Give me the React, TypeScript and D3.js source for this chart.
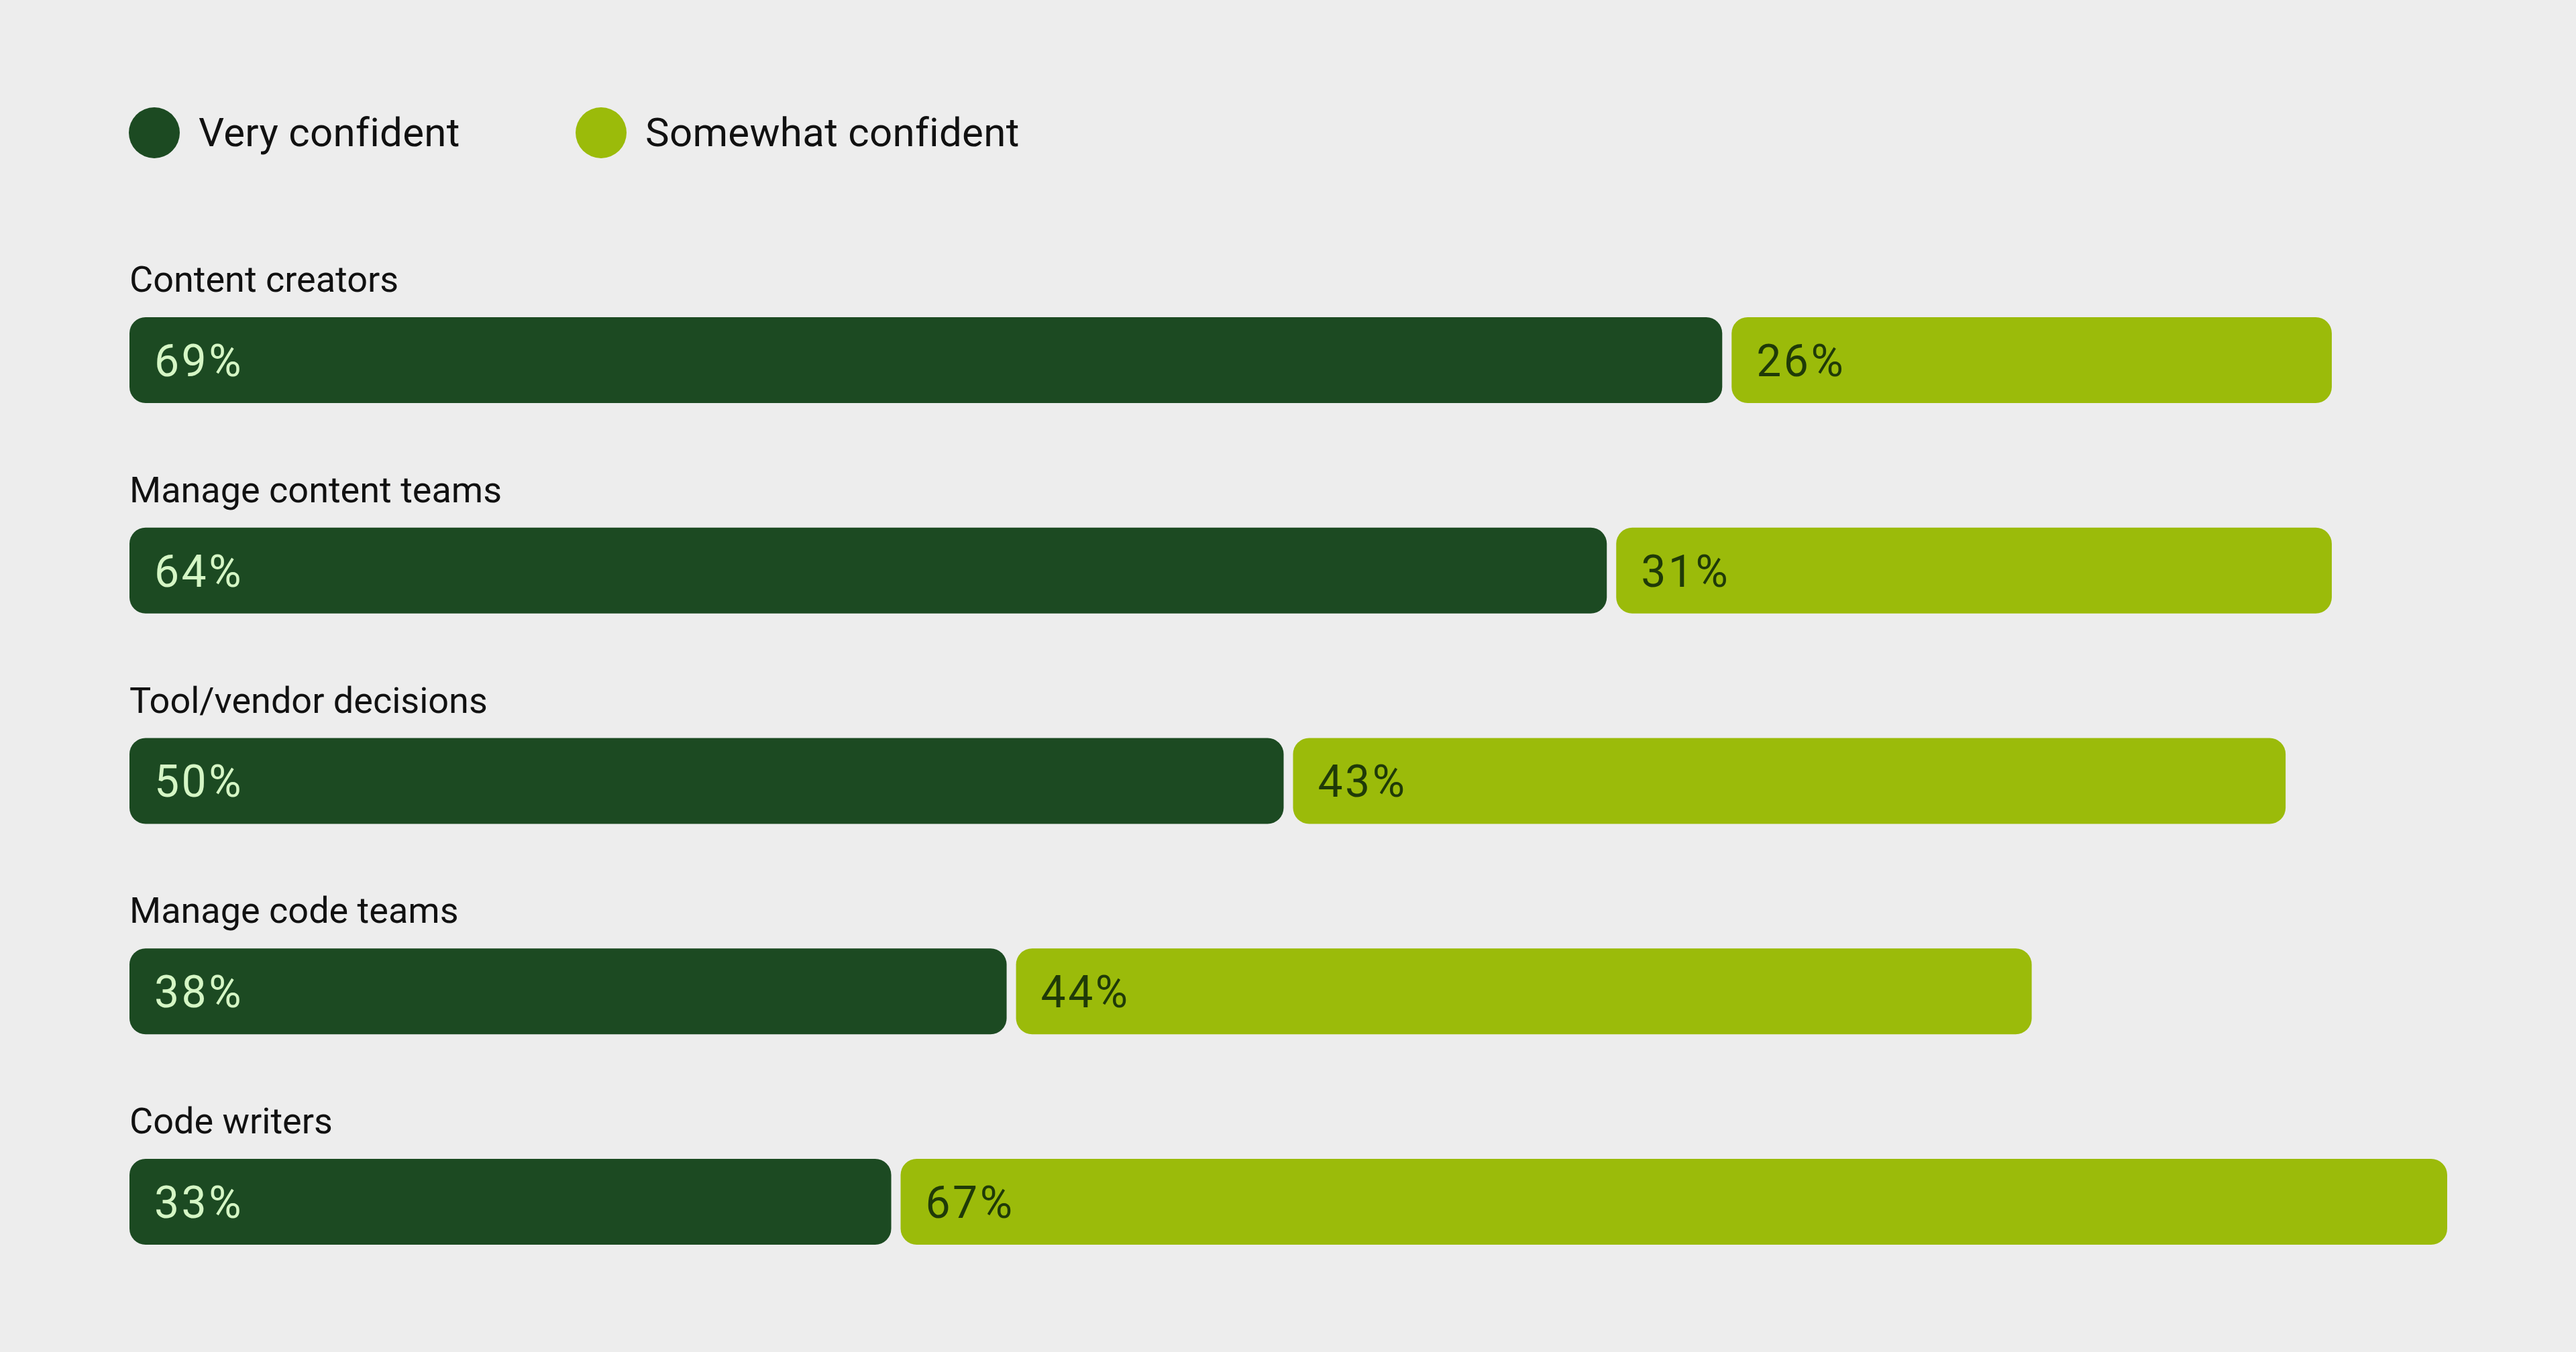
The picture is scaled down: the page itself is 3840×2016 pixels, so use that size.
import React, { useEffect, useRef } from 'react';
import * as d3 from 'd3';

// Chart data
const categories = [
  'Content creators',
  'Manage content teams',
  'Tool/vendor decisions',
  'Manage code teams',
  'Code writers',
];
const veryConfident = [69, 64, 50, 38, 33];
const somewhatConfident = [26, 31, 43, 44, 67];
const seriesNames = ['Very confident', 'Somewhat confident'];

const DARK = '#1c4a22';
const LIGHT = '#9bbb0a';
const BG = '#ededed';

const App: React.FC = () => {
  const ref = useRef<SVGSVGElement>(null);

  useEffect(() => {
    if (!ref.current) return;
    const W = 3840;
    const H = 2016;
    const svg = d3.select(ref.current);
    svg.selectAll('*').remove();
    svg.attr('width', W).attr('height', H);

    svg.append('rect').attr('width', W).attr('height', H).attr('fill', BG);

    const font = 'Roboto, "Liberation Sans", sans-serif';
    const left = 193;
    const gap = 14;
    const barH = 128;
    const radius = 24;

    const x = d3.scaleLinear().domain([0, 100]).range([left, left + 3441]);
    const y = d3.scaleBand<string>()
      .domain(categories)
      .range([473, 473 + 313.75 * categories.length]);

    // Legend
    const legendX = [230, 896];
    const legend = svg.append('g');
    seriesNames.forEach((name, i) => {
      legend.append('circle')
        .attr('cx', legendX[i])
        .attr('cy', 198)
        .attr('r', 38)
        .attr('fill', i === 0 ? DARK : LIGHT);
      legend.append('text')
        .attr('x', legendX[i] + 66)
        .attr('y', 218)
        .attr('font-family', font)
        .attr('font-size', 60)
        .attr('letter-spacing', 0.3)
        .attr('fill', '#111')
        .text(name);
    });

    const rows = categories.map((c, i) => ({
      cat: c,
      a: veryConfident[i],
      b: somewhatConfident[i],
    }));

    const row = svg.selectAll('.row')
      .data(rows)
      .enter()
      .append('g')
      .attr('class', 'row')
      .attr('transform', d => `translate(0,${y(d.cat)})`);

    // Row labels
    row.append('text')
      .attr('x', left)
      .attr('y', -38)
      .attr('font-family', font)
      .attr('font-size', 54)
      .attr('fill', '#111')
      .text(d => d.cat);

    // Very confident bars
    row.append('rect')
      .attr('x', x(0))
      .attr('y', 0)
      .attr('width', d => x(d.a) - x(0))
      .attr('height', barH)
      .attr('rx', radius)
      .attr('fill', DARK);

    row.append('text')
      .attr('x', x(0) + 37)
      .attr('y', barH / 2)
      .attr('dy', '0.36em')
      .attr('font-family', font)
      .attr('font-size', 66)
      .attr('letter-spacing', 3.5)
      .attr('fill', '#d5f6c5')
      .text(d => `${d.a}%`);

    // Somewhat confident bars
    row.append('rect')
      .attr('x', d => x(d.a) + gap)
      .attr('y', 0)
      .attr('width', d => x(d.b) - x(0))
      .attr('height', barH)
      .attr('rx', radius)
      .attr('fill', LIGHT);

    row.append('text')
      .attr('x', d => x(d.a) + gap + 37)
      .attr('y', barH / 2)
      .attr('dy', '0.36em')
      .attr('font-family', font)
      .attr('font-size', 66)
      .attr('letter-spacing', 3.5)
      .attr('fill', '#1f3a08')
      .text(d => `${d.b}%`);
  }, []);

  return (
    <svg
      ref={ref}
      style={{ position: 'absolute', left: 0, top: 0, display: 'block' }}
    />
  );
};

export default App;
